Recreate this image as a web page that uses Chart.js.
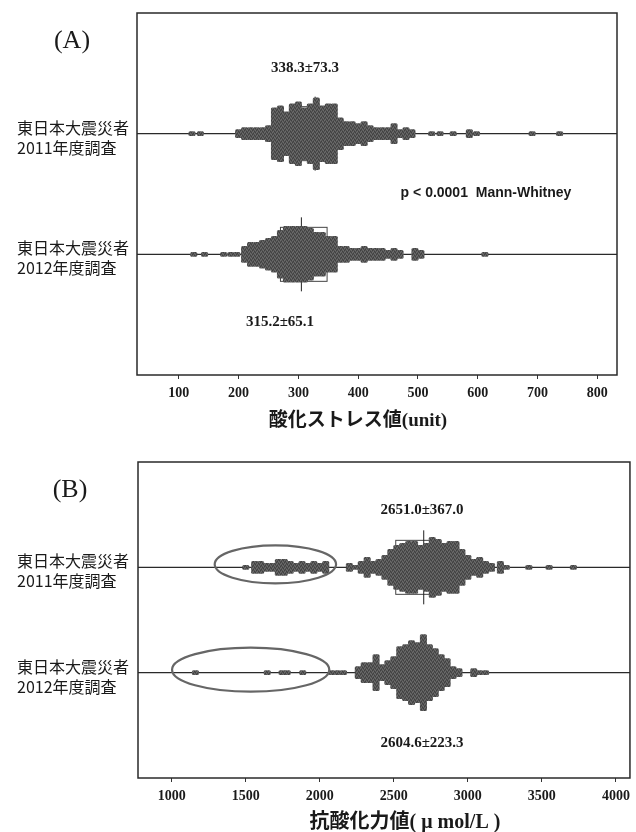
<!DOCTYPE html>
<html lang="ja">
<head>
<meta charset="UTF-8" />
<title>酸化ストレス値・抗酸化力値</title>
<script src="https://cdn.jsdelivr.net/npm/chart.js"></script>
<style>
  body { margin: 0; background: #fff; width: 636px; height: 832px; overflow: hidden; position: relative; }
  canvas { position: absolute; left: 0; }
  #chartA { top: 0; }
  #chartB { top: 440px; }
</style>
</head>
<body>
<canvas id="chartA" width="636" height="440"></canvas>
<canvas id="chartB" width="636" height="392"></canvas>
<script>
  // rows: 2011 survey at y = 2, 2012 survey at y = 1
  const rowLabels = [['東日本大震災者', '2011年度調査'], ['東日本大震災者', '2012年度調査']];

  // (A) oxidative stress (unit): column position and number of dots stacked in it
  const a2011X = [122, 136, 200, 210, 220, 230, 240, 250, 260, 270, 280, 290, 300, 310, 320, 330, 340, 350, 360,
    370, 380, 390, 400, 410, 420, 430, 440, 450, 460, 470, 480, 490, 523, 537, 559, 586, 598, 691, 737];
  const a2011N = [1, 1, 2, 3, 3, 3, 3, 4, 13, 14, 11, 15, 16, 13, 15, 18, 14, 15, 15,
    8, 6, 6, 5, 6, 4, 3, 3, 3, 5, 2, 3, 2, 1, 1, 1, 2, 1, 1, 1];
  const a2012X = [125, 143, 175, 187, 197, 210, 220, 230, 240, 250, 260, 270, 280, 290, 300, 310, 320, 330, 340,
    350, 360, 370, 380, 390, 400, 410, 420, 430, 440, 450, 460, 470, 495, 505, 612];
  const a2012N = [1, 1, 1, 1, 1, 4, 6, 6, 7, 8, 9, 12, 14, 14, 14, 14, 13, 11, 11,
    9, 9, 4, 4, 3, 3, 4, 3, 3, 3, 2, 3, 2, 3, 2, 1];
  const aBoxLow = [285, 270];
  const aBoxHigh = [360, 348];
  const aMedian = [328, 305];
  const aTicks = [100, 200, 300, 400, 500, 600, 700, 800];

  // (B) antioxidant capacity (μmol/L)
  const b2011X = [1500, 1560, 1600, 1640, 1680, 1720, 1760, 1800, 1840, 1880, 1920, 1960, 2000, 2040, 2200, 2240,
    2280, 2320, 2360, 2400, 2440, 2480, 2520, 2560, 2600, 2640, 2680, 2720, 2760, 2800, 2840, 2880, 2920, 2960,
    3000, 3040, 3080, 3120, 3160, 3220, 3260, 3412, 3549, 3713];
  const b2011N = [1, 3, 3, 2, 2, 4, 4, 3, 2, 3, 2, 3, 2, 3, 2, 1,
    3, 5, 3, 4, 6, 9, 11, 12, 13, 13, 11, 12, 15, 14, 12, 13, 13, 9,
    6, 4, 5, 3, 2, 3, 1, 1, 1, 1];
  const b2012X = [1160, 1645, 1745, 1780, 1885, 2080, 2120, 2160, 2260, 2300, 2340, 2380, 2420, 2460, 2500, 2540,
    2580, 2620, 2660, 2700, 2740, 2780, 2820, 2860, 2900, 2940, 3040, 3080, 3120];
  const b2012N = [1, 1, 1, 1, 1, 1, 1, 1, 3, 5, 5, 9, 4, 6, 8, 13,
    14, 16, 15, 19, 14, 12, 9, 7, 3, 2, 2, 1, 1];
  const bBoxLow = [2513];
  const bBoxHigh = [2781];
  const bMedian = [2702];
  const bCircledFrom = [1290, 1002];
  const bCircledTo = [2110, 2064];
  const bTicks = [1000, 1500, 2000, 2500, 3000, 3500, 4000];

  const dotPx = 4;       // height of one dot
  const serif = "'Liberation Serif', 'Noto Sans CJK JP'";
  const sans = "'Noto Sans CJK JP', 'Liberation Sans'";

  // grainy grey fill like the printed dots
  function grain() {
    const c = document.createElement('canvas');
    c.width = 4; c.height = 4;
    const g = c.getContext('2d');
    g.fillStyle = '#555';
    g.fillRect(0, 0, 4, 4);
    g.fillStyle = '#6c6c6c';
    g.fillRect(0, 0, 1, 1); g.fillRect(2, 1, 1, 1); g.fillRect(1, 3, 1, 1); g.fillRect(3, 2, 1, 1);
    g.fillStyle = '#404040';
    g.fillRect(1, 1, 1, 1); g.fillRect(3, 0, 1, 1); g.fillRect(0, 2, 1, 1); g.fillRect(2, 3, 1, 1);
    return g.createPattern(c, 'repeat');
  }
  const dotFill = grain();

  function columns(xs, ns, row, unitPx) {
    return xs.map((x, i) => {
      const h = ns[i] * dotPx / 2 / unitPx;
      return { x: x, y: [row - h, row + h] };
    });
  }

  function makeDecor(cfg) {
    return {
      id: 'decor',
      beforeDatasetsDraw(chart) {
        const { ctx, chartArea: a, scales: { x, y } } = chart;
        ctx.save();
        ctx.strokeStyle = '#2a2a2a';
        ctx.lineWidth = 1.2;
        [2, 1].forEach(r => {
          const py = y.getPixelForValue(r);
          ctx.beginPath(); ctx.moveTo(a.left, py); ctx.lineTo(a.right, py); ctx.stroke();
        });
        cfg.boxLow.forEach((lo, i) => {
          const py = y.getPixelForValue(2 - i);
          const x0 = x.getPixelForValue(lo), x1 = x.getPixelForValue(cfg.boxHigh[i]);
          ctx.fillStyle = '#fff';
          ctx.strokeStyle = '#444';
          ctx.lineWidth = 1;
          ctx.fillRect(x0, py - 27, x1 - x0, 54);
          ctx.strokeRect(x0, py - 27, x1 - x0, 54);
          const xm = x.getPixelForValue(cfg.median[i]);
          ctx.strokeStyle = '#222';
          ctx.beginPath(); ctx.moveTo(xm, py - 37); ctx.lineTo(xm, py + 37); ctx.stroke();
        });
        ctx.restore();
      },
      afterDraw(chart) {
        const { ctx, chartArea: a, scales: { x, y } } = chart;
        ctx.save();
        ctx.strokeStyle = '#2a2a2a';
        ctx.lineWidth = 1.5;
        ctx.strokeRect(a.left, a.top, a.right - a.left, a.bottom - a.top);

        (cfg.circFrom || []).forEach((from, i) => {
          const x0 = x.getPixelForValue(from), x1 = x.getPixelForValue(cfg.circTo[i]);
          const py = y.getPixelForValue(2 - i) - 3;
          ctx.strokeStyle = '#666';
          ctx.lineWidth = 2.2;
          ctx.beginPath();
          ctx.ellipse((x0 + x1) / 2, py, (x1 - x0) / 2, i === 0 ? 19 : 22, 0, 0, Math.PI * 2);
          ctx.stroke();
        });

        ctx.fillStyle = '#1a1a1a';
        ctx.textBaseline = 'middle';
        ctx.textAlign = 'left';
        ctx.font = '16px ' + sans;
        rowLabels.forEach((lines, i) => {
          const py = y.getPixelForValue(2 - i);
          ctx.fillText(lines[0], 17, py - 6);
          ctx.fillText(lines[1], 17, py + 14);
        });

        ctx.textAlign = 'center';
        cfg.texts.forEach(t => {
          ctx.font = t.font;
          ctx.fillText(t.text, t.x, t.y);
        });
        ctx.restore();
      }
    };
  }

  function makeChart(id, sets, xMin, xMax, ticks, pad, axisH, decor) {
    return new Chart(document.getElementById(id), {
      type: 'bar',
      data: {
        datasets: sets.map(d => ({
          data: d,
          backgroundColor: dotFill,
          borderWidth: 0,
          borderRadius: 1.5,
          borderSkipped: false,
          barThickness: 6.4,
          grouped: false
        }))
      },
      options: {
        responsive: false,
        animation: false,
        devicePixelRatio: 1,
        layout: { padding: pad },
        plugins: { legend: { display: false }, tooltip: { enabled: false } },
        scales: {
          x: {
            type: 'linear',
            offset: false,
            min: xMin,
            max: xMax,
            afterBuildTicks: s => { s.ticks = ticks.map(v => ({ value: v })); },
            afterFit: s => { s.height = axisH; },
            grid: { offset: false, drawOnChartArea: false, drawTicks: true, tickLength: 4, color: '#333' },
            border: { display: false },
            ticks: {
              autoSkip: false,
              maxRotation: 0,
              padding: 6,
              color: '#1a1a1a',
              font: { family: 'Liberation Serif', size: 14, weight: 'bold' },
              callback: v => String(v)
            }
          },
          y: { type: 'linear', min: 0, max: 3, display: false }
        }
      },
      plugins: [makeDecor(decor)]
    });
  }

  makeChart('chartA',
    [columns(a2011X, a2011N, 2, 121), columns(a2012X, a2012N, 1, 121)],
    30, 833, aTicks, { left: 137, right: 19, top: 13, bottom: 0 }, 65,
    {
      boxLow: aBoxLow, boxHigh: aBoxHigh, median: aMedian,
      texts: [
        { text: '(A)', x: 72, y: 41, font: '26px ' + serif },
        { text: '338.3±73.3', x: 305, y: 68, font: 'bold 15px ' + serif },
        { text: 'p < 0.0001  Mann-Whitney', x: 486, y: 193, font: "bold 14px 'Liberation Sans'" },
        { text: '315.2±65.1', x: 280, y: 322, font: 'bold 15px ' + serif },
        { text: '酸化ストレス値(unit)', x: 358, y: 421, font: 'bold 19px ' + serif }
      ]
    });

  makeChart('chartB',
    [columns(b2011X, b2011N, 2, 105.3), columns(b2012X, b2012N, 1, 105.3)],
    772, 4095, bTicks, { left: 138, right: 4, top: 22, bottom: 0 }, 54,
    {
      boxLow: bBoxLow, boxHigh: bBoxHigh, median: bMedian,
      circFrom: bCircledFrom, circTo: bCircledTo,
      texts: [
        { text: '(B)', x: 70, y: 50, font: '26px ' + serif },
        { text: '2651.0±367.0', x: 422, y: 70, font: 'bold 15px ' + serif },
        { text: '2604.6±223.3', x: 422, y: 303, font: 'bold 15px ' + serif },
        { text: '抗酸化力値( μ mol/L )', x: 405, y: 383, font: 'bold 20px ' + serif }
      ]
    });
</script>
</body>
</html>
